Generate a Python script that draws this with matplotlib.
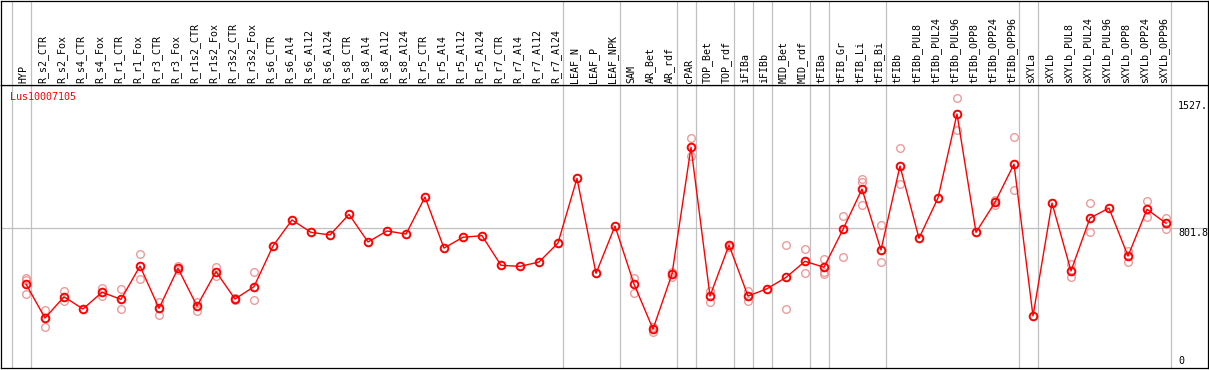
import matplotlib
matplotlib.use("Agg")
import matplotlib.pyplot as plt

# sample names (columns of the header)
samples = ["HYP", "R_s2_CTR", "R_s2_Fox", "R_s4_CTR", "R_s4_Fox", "R_r1_CTR", "R_r1_Fox",
           "R_r3_CTR", "R_r3_Fox", "R_r1s2_CTR", "R_r1s2_Fox", "R_r3s2_CTR", "R_r3s2_Fox",
           "R_s6_CTR", "R_s6_Al4", "R_s6_Al12", "R_s6_Al24", "R_s8_CTR", "R_s8_Al4",
           "R_s8_Al12", "R_s8_Al24", "R_r5_CTR", "R_r5_Al4", "R_r5_Al12", "R_r5_Al24",
           "R_r7_CTR", "R_r7_Al4", "R_r7_Al12", "R_r7_Al24", "LEAF_N", "LEAF_P", "LEAF_NPK",
           "SAM", "AR_Bet", "AR_rdf", "cPAR", "TOP_Bet", "TOP_rdf", "iFIBa", "iFIBb",
           "MID_Bet", "MID_rdf", "tFIBa", "tFIB_Gr", "tFIB_Li", "tFIB_Bi", "tFIBb",
           "tFIBb_PUL8", "tFIBb_PUL24", "tFIBb_PUL96", "tFIBb_OPP8", "tFIBb_OPP24",
           "tFIBb_OPP96", "sXYLa", "sXYLb", "sXYLb_PUL8", "sXYLb_PUL24", "sXYLb_PUL96",
           "sXYLb_OPP8", "sXYLb_OPP24", "sXYLb_OPP96"]

# mean expression per sample
means = [481, 286, 408, 338, 434, 393, 584, 342, 571, 355, 552, 395, 466,
         699, 848, 777, 762, 880, 722, 785, 767, 979, 687, 749, 758, 588, 582, 607, 716,
         1086, 542, 813, 481, 223, 538, 1264, 412, 704, 412, 454, 519, 611, 577,
         794, 1025, 676, 1157, 743, 974, 1455, 777, 949, 1168, 298, 945, 556, 859,
         916, 641, 909, 829]

# single replicates (faint circles)
reps = [[514, 504, 424], [332, 233], [443, 384], [], [460, 412], [451, 336], [651, 508],
        [378, 302], [584, 561], [380, 325], [580, 527], [401, 389], [552, 388],
        [], [], [], [], [], [], [], [], [], [], [], [], [], [], [], [], [], [], [],
        [517, 428], [237, 204], [552, 523], [1317, 1214], [443, 380], [695],
        [443, 385], [], [703, 336], [680, 542], [623, 552, 538], [870, 637],
        [1081, 1067, 935], [817, 605], [1258, 1052], [], [], [1545, 1361], [],
        [962, 934], [1321, 1019], [], [], [594, 519], [943, 777], [], [672, 609],
        [956, 863], [861, 798]]

# group separators (after these sample indexes)
separators = [-1, 0, 28, 31, 34, 35, 37, 38, 39, 41, 42, 45, 52, 53, 60]

gene = "Lus10007105"
ymax_label = 1527
ymid_label = 801.8

W, H = 1209, 370
fig = plt.figure(figsize=(W / 100, H / 100), dpi=100)

# main plot area: x 1..1208 px, y 85..368 px
ax = fig.add_axes([1 / W, 2 / H, 1207 / W, 283 / H])
hd = fig.add_axes([1 / W, 285 / H, 1207 / W, 84.5 / H])

xlim = ((1 - 26) / 19, (1208 - 26) / 19)
for a in (ax, hd):
    a.set_xlim(*xlim)
    a.set_xticks([])
    a.set_yticks([])
    for s in a.spines.values():
        s.set_color("black")
        s.set_linewidth(0.9)
    for sep in separators:
        a.axvline(sep + 0.25, color="#c0c0c0", lw=0.9, zorder=0)

ax.set_ylim(0, 1621)
hd.set_ylim(0, 1)

ax.axhline(ymid_label, color="#c0c0c0", lw=0.9, zorder=0)

xs = list(range(len(samples)))

# replicates first so the mean sits on top
for i, r in enumerate(reps):
    if r:
        ax.plot([i] * len(r), r, linestyle="none", marker="o", markersize=5.5,
                markerfacecolor="none", markeredgecolor="#ee9a9a", markeredgewidth=1.0,
                zorder=2)

ax.plot(xs, means, color="red", lw=1.0, marker="o", markersize=5.5,
        markerfacecolor="none", markeredgecolor="red", markeredgewidth=1.4, zorder=3)

# header labels
for i, name in enumerate(samples):
    hd.text(i - 0.13, 2 / 85, name, rotation=90, ha="center", va="bottom",
            fontsize=7.2, family="DejaVu Sans Mono", color="black")

ax.text(9 / 1207, (368 - 97) / 283, gene, transform=ax.transAxes, ha="left", va="center",
        fontsize=7.2, family="DejaVu Sans Mono", color="red")

xr = (1178 - 26) / 19
ax.text(xr, ymax_label, "1527.", ha="left", va="top", fontsize=7.2,
        family="DejaVu Sans Mono", color="black")
ax.text(xr, ymid_label, "801.8", ha="left", va="top", fontsize=7.2,
        family="DejaVu Sans Mono", color="black")
ax.text(xr, 12, "0", ha="left", va="bottom", fontsize=7.2,
        family="DejaVu Sans Mono", color="black")

fig.savefig("out.png", dpi=100)
